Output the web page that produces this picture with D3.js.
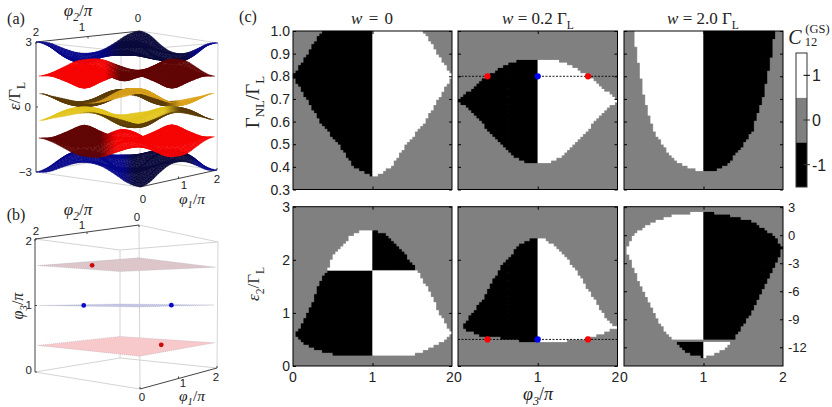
<!DOCTYPE html>
<html><head><meta charset="utf-8">
<script src="https://d3js.org/d3.v7.min.js"></script>
<style>
html,body{margin:0;padding:0;background:#fff}
svg{display:block}
text{font-family:"Liberation Sans",Arial,sans-serif;fill:#222}
.serif{font-family:"Liberation Serif",serif}
</style></head><body>
<svg id="c" width="832" height="407"></svg>
<script>
// ---------- DATA: band surfaces, rows phi1 = 0..2 in steps of 0.25, columns phi2 likewise ----------
const blueBand = [
[3.00,2.90,2.62,2.38,2.30,2.38,2.62,2.90,3.00],
[2.90,2.78,2.62,2.45,2.38,2.25,2.20,2.42,2.90],
[2.62,2.62,2.55,2.62,2.62,2.20,2.00,2.20,2.62],
[2.38,2.45,2.62,2.78,2.90,2.42,2.20,2.25,2.38],
[2.30,2.38,2.62,2.90,3.00,2.90,2.62,2.38,2.30],
[2.38,2.25,2.20,2.42,2.90,2.78,2.62,2.45,2.38],
[2.62,2.20,2.00,2.20,2.62,2.62,2.55,2.62,2.62],
[2.90,2.42,2.20,2.25,2.38,2.45,2.62,2.78,2.90],
[3.00,2.90,2.62,2.38,2.30,2.38,2.62,2.90,3.00]];
const redBand = [
[1.43,1.55,1.78,2.00,2.05,2.00,1.78,1.55,1.43],
[1.55,1.50,1.45,1.70,2.00,1.60,1.20,1.25,1.55],
[1.78,1.45,1.25,1.45,1.78,1.20,0.85,1.20,1.78],
[2.00,1.70,1.45,1.50,1.55,1.25,1.20,1.60,2.00],
[2.05,2.00,1.78,1.55,1.43,1.55,1.78,2.00,2.05],
[2.00,1.60,1.20,1.25,1.55,1.50,1.45,1.70,2.00],
[1.78,1.20,0.85,1.20,1.78,1.45,1.25,1.45,1.78],
[1.55,1.25,1.20,1.60,2.00,1.70,1.45,1.50,1.55],
[1.43,1.55,1.78,2.00,2.05,2.00,1.78,1.55,1.43]];
const goldBand = [
[.62,.50,.38,.26,.20,.26,.38,.50,.62],
[.50,.72,.74,.55,.26,.12,.10,.22,.50],
[.38,.74,.80,.74,.38,.10,.02,.10,.38],
[.26,.55,.74,.72,.50,.22,.10,.12,.26],
[.20,.26,.38,.50,.62,.50,.38,.26,.20],
[.26,.12,.10,.22,.50,.72,.74,.55,.26],
[.38,.10,.02,.10,.38,.74,.80,.74,.38],
[.50,.22,.10,.12,.26,.55,.74,.72,.50],
[.62,.50,.38,.26,.20,.26,.38,.50,.62]];
// Weyl points of panel (b): phi1, phi2, phi3
const redWeyl  = [[0.6,1.4,1.6],[1.35,0.6,0.4]];
const blueWeyl = [[0.5,1.5,1.0],[1.5,0.5,1.0]];
const planes   = [{z:0.4,fill:"#f7c9cb"},{z:1.0,fill:"#c4c6e6"},{z:1.6,fill:"#dcc6ca"}];
// ---------- DATA: phase-diagram regions, [phi3/pi, y] ----------
const top0Black=[[0,.8],[.364,1],[1,1],[1,.36],[.95,.366],[.76,.403],[.594,.49],[.343,.6],[.176,.696]];
const top0White=[[2,.8],[1.636,1],[1,1],[1,.36],[1.05,.36],[1.24,.403],[1.406,.49],[1.657,.6],[1.824,.696]];
const top1Black=[[0,.696],[.11,.725],[.234,.762],[.37,.8],[.526,.836],[.776,.875],[1,.875],[1,.412],[.88,.417],[.735,.44],[.526,.505],[.317,.586],[.15,.645]];
const top1White=[[2,.696],[1.89,.725],[1.766,.762],[1.63,.8],[1.474,.836],[1.224,.875],[1,.875],[1,.412],[1.12,.417],[1.265,.44],[1.474,.505],[1.683,.586],[1.85,.645]];
const top2White=[[.117,1],[1,1],[1,.378],[.83,.395],[.66,.425],[.494,.49],[.368,.564],[.264,.696],[.18,.872]];
const top2Black=[[1.9,1],[1,1],[1,.376],[1.163,.388],[1.29,.41],[1.456,.476],[1.62,.564],[1.75,.71],[1.83,.843]];
const bot0BlackL=[[.03,.584],[.113,.772],[.218,1.087],[.343,1.59],[.427,1.8],[1,1.8],[1,.207],[.51,.22],[.30,.30],[.134,.43]];
const bot0WhiteU=[[.427,1.8],[.53,2.12],[.72,2.435],[.86,2.54],[1,2.56],[1,1.8]];
const bot0BlackU=[[1,1.8],[1,2.56],[1.18,2.47],[1.39,2.15],[1.557,1.8]];
const bot0WhiteL=[[1,1.8],[1.557,1.8],[1.72,1.40],[1.85,.96],[1.99,.615],[1.85,.43],[1.68,.30],[1.51,.22],[1,.207]];
const bot1Black=[[.04,.74],[.15,.93],[.317,1.27],[.526,1.84],[.776,2.28],[.92,2.40],[1,2.40],[1,.45],[.756,.477],[.255,.58],[.13,.66]];
const bot1White=[[1,2.40],[1.07,2.39],[1.28,2.18],[1.49,1.78],[1.70,1.27],[1.86,.89],[1.99,.72],[1.86,.65],[1.74,.58],[1.57,.52],[1.26,.45],[1,.45]];
const bot2White=[[.025,-1.45],[.117,-.2],[.2,.51],[.368,1.4],[.577,2.04],[.787,2.29],[1,2.47],[1,-11.3],[.66,-11.3],[.535,-10.5],[.368,-8.2],[.2,-5.18]];
const bot2Black=[[1,2.47],[1.2,2.29],[1.41,1.93],[1.62,1.4],[1.79,.51],[1.92,-.38],[1.99,-1.45],[1.92,-2.87],[1.79,-5.18],[1.62,-8],[1.46,-10.2],[1.36,-11.3],[1,-11.3]];
const bot2BlackLow=[[.67,-11.4],[1,-11.4],[1,-13.04],[.91,-12.97],[.81,-12.65],[.72,-12.1]];
const bot2WhiteLow=[[1,-11.4],[1.34,-11.4],[1.25,-12.3],[1.12,-12.8],[1,-13.04]];
const phi3Ticks=[0,1,2];
const gammaTicks=[.3,.4,.5,.6,.7,.8,.9,1];
const epsTicks=[0,1,2,3];
const epsTicksRight=[3,0,-3,-6,-9,-12];
const barTicks=[1,0,-1];
const markerTop=[.37,1,1.63], markerBot=[.37,1,1.63];

// ---------- helpers ----------
const svg=d3.select("#c");
function txt(x,y,parts,o={}){
  const t=svg.append("text").attr("x",x).attr("y",y).attr("font-size",o.size||12)
    .attr("text-anchor",o.anchor||"middle").attr("class",o.serif===false?null:"serif");
  if(o.rot!=null)t.attr("transform",`rotate(${o.rot} ${x} ${y})`);
  if(o.fill)t.style("fill",o.fill);
  parts.forEach(p=>{
    const s=t.append("tspan").text(p[0]);
    const k=p[1]||"";
    if(k.includes("i"))s.attr("font-style","italic");
    if(k.includes("s"))s.attr("font-size",(o.size||12)*.68).attr("dy",(o.size||12)*.28);
    if(k.includes("b"))s.attr("dy",-(o.size||12)*.28);
  });
  return t;
}
function num(x,y,s,o={}){return txt(x,y,[[s]],Object.assign({serif:false},o));}

// ---------- 3D boxes ----------
function makeBox(c,zDom){
  const u=d3.scaleLinear().domain([0,2]).range([0,1]);
  const t=d3.scaleLinear().domain(zDom).range([0,1]);
  const fx=127;
  const p=(p1,p2,z)=>{
    const a=u(p1),b=u(p2),h=t(z);
    const w=[(1-a)*(1-b),a*(1-b),(1-a)*b,a*b], k=[c.N,c.R,c.L,c.F];
    let xb=0,yb=0,xt=0,yt=0;
    k.forEach((q,i)=>{xb+=w[i]*q[2];yb+=w[i]*q[3];xt+=w[i]*q[0];yt+=w[i]*q[1];});
    let x=xb+(xt-xb)*h,y=yb+(yt-yb)*h;
    const m=2*h-1;
    x=fx+(x-fx)*(1-.04*(1-m*m));
    return [x,y];
  };
  return p;
}
function boxLines(c,grp){
  const l=(a,b,col,w)=>grp.append("line").attr("x1",a[0]).attr("y1",a[1]).attr("x2",b[0]).attr("y2",b[1]).attr("stroke",col).attr("stroke-width",w);
  const top=k=>[c[k][0],c[k][1]],bot=k=>[c[k][2],c[k][3]];
  const lg="#d4d4d4";
  ["N","R","F"].forEach(k=>l(top(k),bot(k),lg,1));
  l(top("L"),top("F"),lg,1);l(top("F"),top("R"),lg,1);l(top("N"),top("R"),lg,1);
  l(bot("L"),bot("F"),lg,1);l(bot("F"),bot("R"),lg,1);l(bot("L"),bot("N"),lg,1);
  l(top("L"),top("N"),"#444",1);l(top("L"),bot("L"),"#444",1);l(bot("N"),bot("R"),"#444",1);
}
function axisTicks(c,grp,mid){
  const lerp=(a,b,f)=>[a[0]+(b[0]-a[0])*f,a[1]+(b[1]-a[1])*f];
  const top=k=>[c[k][0],c[k][1]],bot=k=>[c[k][2],c[k][3]];
  [[top("L"),top("N"),0,2],[bot("N"),bot("R"),0,-2]].forEach(([a,b,dx,dy])=>{
    [0,.5,1].forEach(f=>{const q=lerp(a,b,f);grp.append("line").attr("x1",q[0]).attr("y1",q[1]).attr("x2",q[0]+dx).attr("y2",q[1]+dy).attr("stroke","#444");});
  });
  [0,.5,1].forEach(f=>{const q=lerp(top("L"),bot("L"),f);grp.append("line").attr("x1",q[0]).attr("y1",q[1]).attr("x2",q[0]+2).attr("y2",q[1]).attr("stroke","#444");});
}
// Panel (a)
const boxA={N:[140,31,140,187],R:[218,43,217,170],L:[36,42,36,172],F:[121,51,121,157]};
const projA=makeBox(boxA,[-3,3]);
const gA=svg.append("g");
boxLines(boxA,gA);axisTicks(boxA,gA);

function cr(a,b,c,d,t){return .5*((2*b)+(-a+c)*t+(2*a-5*b+4*c-d)*t*t+(-a+3*b-3*c+d)*t*t*t);}
function sample(tb,p1,p2){
  const n=8,fx=p1/.25,fy=p2/.25;
  const ix=Math.min(Math.floor(fx),n-1),iy=Math.min(Math.floor(fy),n-1),tx=fx-ix,ty=fy-iy;
  const at=(i,j)=>tb[((i%n)+n)%n][((j%n)+n)%n];
  const col=[-1,0,1,2].map(d=>cr(at(ix+d,iy-1),at(ix+d,iy),at(ix+d,iy+1),at(ix+d,iy+2),ty));
  return cr(col[0],col[1],col[2],col[3],tx);
}
const shadeStops={
  blueUp:{x:[100,122,185,197],s:[1,.05,.05,1]},
  blueDn:{x:[122,135,188,198],s:[1,.05,.05,1]},
  redUp:{x:[105,120],s:[1,.05]},
  redDn:{x:[100,116],s:[.05,1]}
};
const blueC=d3.interpolateRgb("#0b0b38","#08088c");
const redC=d3.interpolateRgb("#5a0505","#f60404");
const goldC=d3.interpolateRgb("#5c3c08","#dca41c");
const yelC=d3.interpolateRgb("#5c3c08","#e2c41e");
const N=32,step=2/N;
function drawBand(tb,sign,col,shade){
  const quads=[];
  for(let i=0;i<N;i++)for(let j=0;j<N;j++){
    const a=i*step,b=j*step;
    const pts=[[a,b],[a+step,b],[a+step,b+step],[a,b+step]].map(q=>projA(q[0],q[1],sign*Math.max(.01,sample(tb,q[0],q[1]))));
    quads.push({pts,d:a+b,a,b});
  }
  quads.sort((x,y)=>y.d-x.d);
  const g=svg.append("g");
  quads.forEach(q=>{
    const cx=d3.mean(q.pts,p=>p[0]);
    const c=col(shade(cx,q));
    g.append("polygon").attr("points",q.pts.map(p=>p.join(",")).join(" ")).attr("fill",c).attr("stroke",c).attr("stroke-width",.4);
  });
}
const sc=k=>d3.scaleLinear().domain(shadeStops[k].x).range(shadeStops[k].s).clamp(true);
drawBand(blueBand,1,blueC,sc("blueUp"));
drawBand(blueBand,-1,blueC,sc("blueDn"));
drawBand(redBand,1,redC,sc("redUp"));
drawBand(redBand,-1,redC,sc("redDn"));
const nearS=d3.scaleLinear().domain([.8,1.2]).range([1,0]).clamp(true);
const edgeL=d3.scaleLinear().domain([80,95]).range([0,1]).clamp(true);
const edgeR=d3.scaleLinear().domain([165,180]).range([0,1]).clamp(true);
drawBand(goldBand,1,goldC,(x,q)=>Math.max(edgeR(x),nearS(q.d)*edgeL(x)));
drawBand(goldBand,-1,yelC,(x,q)=>Math.max((1-nearS(q.d))*(1-edgeR(x)),1-edgeL(x)));

// labels (a)
txt(78,16,[["φ","i"],["2","is"],["/","b"],["π","i"]],{size:17});
num(36,36,"2",{size:11.5});num(82,31,"1",{size:11.5});num(138,22,"0",{size:11.5});
num(32,46,"3",{size:11.5,anchor:"end"});num(31,111,"0",{size:11.5,anchor:"end"});num(32,176,"−3",{size:11.5,anchor:"end"});
txt(20,96,[["ε","i"],["/Γ"],["L","s"]],{size:17,rot:-90});
num(143,203,"0",{size:11.5});num(184,189,"1",{size:11.5});num(217,183,"2",{size:11.5});
txt(192,204,[["φ","i"],["1","is"],["/","b"],["π","i"]],{size:15.5});
txt(16,24,[["(a)"]],{size:16});

// Panel (b)
const boxB={N:[139,225,140,389],R:[218,242,217,368],L:[35,239,35,372],F:[120,250,120,358]};
const projB=makeBox(boxB,[0,2]);
const gB=svg.append("g");
boxLines(boxB,gB);axisTicks(boxB,gB);
planes.forEach(pl=>{
  const pts=[[0,0],[2,0],[2,2],[0,2]].map(q=>projB(q[0],q[1],pl.z));
  gB.append("polygon").attr("points",pts.map(p=>p.join(",")).join(" ")).attr("fill",pl.fill).attr("stroke","#9a9aa8").attr("stroke-width",.4).attr("stroke-dasharray","1 1");
});
gB.selectAll("circle.r").data(redWeyl).enter().append("circle").attr("class","r")
  .attr("cx",d=>projB(d[0],d[1],d[2])[0]).attr("cy",d=>projB(d[0],d[1],d[2])[1]).attr("r",2.4).attr("fill","#c80a0a");
gB.selectAll("circle.b").data(blueWeyl).enter().append("circle").attr("class","b")
  .attr("cx",d=>projB(d[0],d[1],d[2])[0]).attr("cy",d=>projB(d[0],d[1],d[2])[1]).attr("r",2.4).attr("fill","#0a0ac8");
txt(78,215,[["φ","i"],["2","is"],["/","b"],["π","i"]],{size:17});
num(36,235,"2",{size:11.5});num(82,229,"1",{size:11.5});num(137,221,"0",{size:11.5});
num(32,245,"2",{size:11.5,anchor:"end"});num(32,309,"1",{size:11.5,anchor:"end"});num(32,374,"0",{size:11.5,anchor:"end"});
txt(23,306,[["φ","i"],["3","is"],["/","b"],["π","i"]],{size:16,rot:-90});
num(142,401,"0",{size:11.5});num(183,387,"1",{size:11.5});num(216,381,"2",{size:11.5});
txt(192,401,[["φ","i"],["1","is"],["/","b"],["π","i"]],{size:15.5});
txt(16,220,[["(b)"]],{size:16});

// ---------- phase diagrams ----------
const colX=[[293,452],[458,617.5],[624,783]];
const rowY=[[31,189.5],[206.7,366]];
const rowDom=[[[.3,1],[.3,1],[.3,1]],[[0,3],[0,3],[-14,3.05]]];
const gx=60,gy=60;
function region(x,y,poly,fill,parent){
  const [d0,d1]=y.domain(),dx=2/gx,dy=(d1-d0)/gy;
  let d="";
  for(let i=0;i<gx;i++)for(let j=0;j<gy;j++){
    const cx=(i+.5)*dx,cy=d0+(j+.5)*dy;
    if(d3.polygonContains(poly,[cx,cy])){
      const X0=x(cx-dx/2),X1=x(cx+dx/2),Y0=y(cy+dy/2),Y1=y(cy-dy/2);
      d+=`M${X0} ${Y0}H${X1}V${Y1}H${X0}Z`;
    }
  }
  parent.append("path").attr("d",d).attr("fill",fill).attr("stroke",fill).attr("stroke-width",.2);
}
const panels=[
 {r:0,c:0,regions:[[top0Black,"#000"],[top0White,"#fff"]]},
 {r:0,c:1,regions:[[top1Black,"#000"],[top1White,"#fff"]],line:.8,mk:markerTop},
 {r:0,c:2,regions:[[top2White,"#fff"],[top2Black,"#000"]]},
 {r:1,c:0,regions:[[bot0BlackL,"#000"],[bot0WhiteU,"#fff"],[bot0BlackU,"#000"],[bot0WhiteL,"#fff"]]},
 {r:1,c:1,regions:[[bot1Black,"#000"],[bot1White,"#fff"]],line:.5,mk:markerBot},
 {r:1,c:2,regions:[[bot2White,"#fff"],[bot2Black,"#000"],[bot2BlackLow,"#000"],[bot2WhiteLow,"#fff"]]}
];
panels.forEach(P=>{
  const x=d3.scaleLinear().domain([0,2]).range(colX[P.c]);
  const dom=rowDom[P.r][P.c];
  const y=d3.scaleLinear().domain(dom).range([rowY[P.r][1],rowY[P.r][0]]);
  const g=svg.append("g");
  g.append("rect").attr("x",x(0)).attr("y",y(dom[1])).attr("width",x(2)-x(0)).attr("height",y(dom[0])-y(dom[1])).attr("fill","#808080");
  P.regions.forEach(([poly,f])=>region(x,y,poly,f,g));
  if(P.line!=null){
    g.append("line").attr("x1",x(0)).attr("x2",x(2)).attr("y1",y(P.line)).attr("y2",y(P.line)).attr("stroke","#000").attr("stroke-width",.9).attr("stroke-dasharray","2 1.5");
    g.selectAll("circle").data(P.mk).enter().append("circle").attr("cx",d=>x(d)).attr("cy",y(P.line)).attr("r",3.1).attr("fill",(d,i)=>i===1?"#0000ff":"#ff0000");
  }
  const yt=P.r===0?gammaTicks:(P.c===2?epsTicksRight:epsTicks);
  const ax=(a,orient,tv)=>{
    const ag=g.append("g").call(a.tickValues(tv).tickSize(-3).tickFormat("").tickSizeOuter(0));
    ag.select(".domain").remove();
    ag.selectAll("line").attr("stroke","#000");
    return ag;
  };
  ax(d3.axisLeft(y),"l",yt).attr("transform",`translate(${x(0)},0)`);
  ax(d3.axisRight(y),"r",yt).attr("transform",`translate(${x(2)},0)`);
  ax(d3.axisBottom(x),"b",[1]).attr("transform",`translate(0,${y(dom[0])})`);
  ax(d3.axisTop(x),"t",[1]).attr("transform",`translate(0,${y(dom[1])})`);
  g.append("rect").attr("x",x(0)).attr("y",y(dom[1])).attr("width",x(2)-x(0)).attr("height",y(dom[0])-y(dom[1])).attr("fill","none").attr("stroke","#000").attr("stroke-width",1);
  if(P.c===0){
    yt.forEach(v=>num(x(0)-3,y(v)+5,P.r===0?v.toFixed(1):String(v),{size:14,anchor:"end"}));
  }
  if(P.c===2&&P.r===1){
    yt.forEach(v=>num(x(2)+5,y(v)+5,String(v),{size:13,anchor:"start"}));
  }
  if(P.r===1){
    phi3Ticks.forEach(v=>num(x(v)+(v===2&&P.c<2?-2:0),y(dom[0])+16,String(v),{size:14}));
  }
});
txt(248,22,[["(c)"]],{size:16});
txt(372,24,[["w","i"],[" = 0"]],{size:17}).attr("word-spacing",2);
txt(538,24,[["w","i"],[" = 0.2 Γ"],["L","s"]],{size:17});
txt(703,24,[["w","i"],[" = 2.0 Γ"],["L","s"]],{size:17});
txt(259,102,[["Γ"],["NL","s"],["/Γ","b"],["L","s"]],{size:19,rot:-90});
txt(259,284,[["ε","i"],["2","s"],["/Γ","b"],["L","s"]],{size:17,rot:-90,fill:"#333"});
txt(538,400,[["φ","i"],["3","is"],["/","b"],["π","i"]],{size:18});

// colour bar
const barY=d3.scaleLinear().domain([-1.5,1.5]).range([187,53]);
const cb=svg.append("g");
[[-1.5,-.5,"#000"],[-.5,.5,"#808080"],[.5,1.5,"#fff"]].forEach(d=>{
  cb.append("rect").attr("x",796).attr("width",11).attr("y",barY(d[1])).attr("height",barY(d[0])-barY(d[1])).attr("fill",d[2]);
});
cb.append("rect").attr("x",796).attr("y",53).attr("width",11).attr("height",134).attr("fill","none").attr("stroke","#333").attr("stroke-width",1);
barTicks.forEach(v=>{
  cb.append("line").attr("x1",803.5).attr("x2",810).attr("y1",barY(v)).attr("y2",barY(v)).attr("stroke",v===1?"#000":"#333");
  num(812,barY(v)+6,String(v),{size:16,anchor:"start"});
});
txt(795,44,[["C","i"]],{size:20});
txt(817.5,33,[["(GS)"]],{size:12.5});
txt(811,46,[["12"]],{size:12.5});
</script>
</body></html>
